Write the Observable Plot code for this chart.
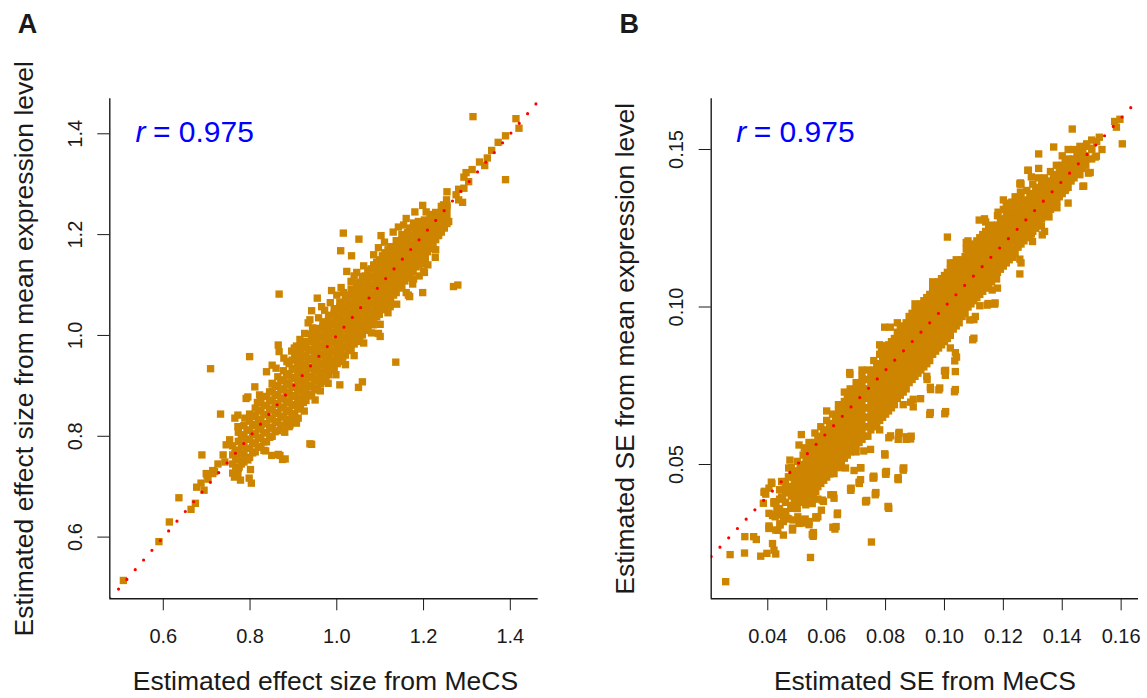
<!DOCTYPE html>
<html><head><meta charset="utf-8">
<script src="https://cdn.jsdelivr.net/npm/d3@7"></script>
<script src="https://cdn.jsdelivr.net/npm/@observablehq/plot@0.6"></script>
<style>
html,body{margin:0;padding:0;background:#fff;}
#wrap{position:relative;width:1147px;height:698px;overflow:hidden;background:#fff;}
#wrap > div{position:absolute;top:0;}
</style></head><body>
<div id="wrap"><div id="pa" style="left:0px"></div><div id="pb" style="left:573px"></div></div>
<script>
// ---------- Panel A: estimated effect size ----------
const titleXA = "Estimated effect size from MeCS";
const titleYA = "Estimated effect size from mean expression level";
const letterA = "A";
const rA = "0.975";
const xTicksA = [0.6, 0.8, 1.0, 1.2, 1.4];
const yTicksA = [0.6, 0.8, 1.0, 1.2, 1.4];
const xDomainA = [0.4767, 1.4643];
const yDomainA = [0.4776, 1.4694];

// scattered points: [MeCS, mean expression]
const outA = [
[0.508,0.514],[0.590,0.591],[0.614,0.630],[0.636,0.678],[0.664,0.655],[0.674,0.667],
[0.677,0.699],[0.694,0.693],[0.687,0.707],[0.699,0.726],[0.714,0.726],[0.718,0.730],[0.703,0.715],
[0.689,0.763],[0.709,0.934],[0.732,0.844],[0.726,0.745],[0.714,0.732],[0.701,0.722],[0.742,0.749],
[0.753,0.793],[0.745,0.783],[0.738,0.763],[0.772,0.723],[0.795,0.753],[0.765,0.766],[0.780,0.763],
[0.803,0.707],[0.801,0.734],[0.778,0.713],[0.764,0.719],[0.775,0.739],[0.798,0.717],
[0.799,0.958],[0.867,1.082],[0.836,0.771],[0.865,0.764],[0.875,0.754],[0.869,0.762],[0.881,0.755],[0.850,0.762],
[0.832,0.772],[0.846,0.799],[0.890,0.819],[0.907,0.826],[0.911,0.836],[0.892,0.822],
[0.938,0.785],[0.942,0.784],[0.911,0.862],
[0.851,0.941],[0.838,0.928],[0.811,0.898],[0.822,0.882],[0.791,0.875],[0.795,0.878],[0.817,0.867],
[0.772,0.842],[0.765,0.836],[0.788,0.836],[0.772,0.819],
[0.865,0.981],[0.867,0.968],[0.896,0.969],[0.907,0.979],
[0.934,1.025],[0.926,1.004],[0.938,1.031],[0.955,1.074],[0.965,1.057],[0.942,1.049],
[0.973,0.925],[0.988,0.939],[1.007,0.968],[1.011,0.951],[1.007,0.902],[1.050,0.897],[1.059,0.908],
[1.136,0.947],[1.096,1.004],[1.100,0.998],[1.084,1.021],[1.073,1.061],[1.106,1.061],[1.123,1.057],
[1.054,1.011],[1.057,1.027],[1.034,1.107],[1.065,1.100],[1.104,1.087],
[1.023,1.127],[1.033,1.107],[0.988,1.089],[1.015,1.085],[1.046,1.125],
[1.015,1.203],[1.051,1.191],[1.009,1.168],[1.034,1.158],[1.102,1.198],[1.096,1.174],
[1.228,1.170],[1.227,1.155],[1.204,1.153],[1.204,1.143],[1.200,1.128],[1.202,1.125],
[1.177,1.112],[1.198,1.085],[1.165,1.080],[1.168,1.077],[1.269,1.097],[1.279,1.100],
[1.154,1.219],[1.168,1.213],[1.177,1.223],
[1.198,1.258],[1.206,1.245],[1.188,1.226],[1.212,1.223],[1.196,1.206],[1.219,1.206],[1.233,1.198],
[1.254,1.285],[1.253,1.269],[1.246,1.259],[1.254,1.254],[1.242,1.243],[1.231,1.239],[1.225,1.233],[1.239,1.236],[1.258,1.226],[1.242,1.214],
[1.281,1.290],[1.293,1.292],[1.275,1.279],[1.281,1.269],[1.290,1.264],
[1.312,1.329],[1.298,1.323],[1.293,1.314],[1.304,1.305],
[1.329,1.344],[1.341,1.337],[1.347,1.352],[1.357,1.367],[1.372,1.383],[1.389,1.396],
[1.389,1.309],[1.314,1.434],[1.413,1.430],[1.420,1.411]
];
// ragged points along both edges of the cloud
const edgeA = [
[0.860,0.935],[0.878,0.955],[0.885,0.948],[0.902,0.975],[0.915,0.992],[0.921,0.985],[0.944,1.015],
[0.958,1.035],[0.972,1.050],[0.985,1.065],[1.000,1.080],[1.010,1.095],[1.040,1.118],[1.062,1.138],
[1.085,1.160],[1.110,1.185],[1.130,1.205],[1.142,1.215],[1.160,1.232],[1.180,1.245],
[0.880,0.808],[0.905,0.832],[0.925,0.850],[0.950,0.872],[0.962,0.890],[0.980,0.905],[0.998,0.922],
[1.020,0.942],[1.040,0.960],[1.062,0.985],[1.080,1.005],[1.100,1.022],[1.118,1.045],[1.138,1.062],
[1.160,1.085],[1.175,1.102],[1.190,1.118],[1.210,1.140]
];
// dense core of the cloud, estimated column by column: [MeCS, [mean expression values]]
const bandA = [
[0.760,[0.727,0.745,0.763,0.781]],
[0.773,[0.736,0.754,0.772,0.790,0.808]],
[0.786,[0.749,0.767,0.785,0.803,0.821]],
[0.799,[0.758,0.776,0.794,0.812,0.830,0.844]],
[0.812,[0.769,0.787,0.805,0.823,0.841,0.856]],
[0.825,[0.780,0.798,0.816,0.834,0.852,0.870]],
[0.838,[0.789,0.807,0.825,0.843,0.861,0.879]],
[0.851,[0.800,0.818,0.836,0.854,0.872,0.890,0.905]],
[0.864,[0.811,0.829,0.847,0.865,0.883,0.901,0.918]],
[0.877,[0.822,0.840,0.858,0.876,0.894,0.912,0.930]],
[0.890,[0.834,0.852,0.870,0.888,0.906,0.924,0.944]],
[0.903,[0.845,0.863,0.881,0.899,0.917,0.935,0.953,0.962]],
[0.916,[0.858,0.876,0.894,0.912,0.930,0.948,0.966,0.975]],
[0.929,[0.871,0.889,0.907,0.925,0.943,0.961,0.979,0.988]],
[0.942,[0.883,0.901,0.919,0.937,0.955,0.973,0.991,1.002]],
[0.955,[0.896,0.914,0.932,0.950,0.968,0.986,1.004,1.014]],
[0.968,[0.909,0.927,0.945,0.963,0.981,0.999,1.017,1.027]],
[0.981,[0.922,0.940,0.958,0.976,0.994,1.012,1.030,1.040]],
[0.994,[0.935,0.953,0.971,0.989,1.007,1.025,1.043,1.053]],
[1.007,[0.948,0.966,0.984,1.002,1.020,1.038,1.056,1.066]],
[1.020,[0.961,0.979,0.997,1.015,1.033,1.051,1.069,1.079]],
[1.033,[0.974,0.992,1.010,1.028,1.046,1.064,1.082,1.092]],
[1.046,[0.988,1.006,1.024,1.042,1.060,1.078,1.096,1.104]],
[1.059,[1.001,1.019,1.037,1.055,1.073,1.091,1.109,1.117]],
[1.072,[1.015,1.033,1.051,1.069,1.087,1.105,1.123,1.129]],
[1.085,[1.028,1.046,1.064,1.082,1.100,1.118,1.136,1.140]],
[1.098,[1.042,1.060,1.078,1.096,1.114,1.132,1.150]],
[1.111,[1.056,1.074,1.092,1.110,1.128,1.146,1.164]],
[1.124,[1.071,1.089,1.107,1.125,1.143,1.161,1.176]],
[1.137,[1.085,1.103,1.121,1.139,1.157,1.175,1.188]],
[1.150,[1.099,1.117,1.135,1.153,1.171,1.189,1.200]],
[1.163,[1.114,1.132,1.150,1.168,1.186,1.204]],
[1.176,[1.127,1.145,1.163,1.181,1.199,1.214]],
[1.189,[1.141,1.159,1.177,1.195,1.213,1.225]],
[1.202,[1.157,1.175,1.193,1.211,1.229]],
[1.215,[1.172,1.190,1.208,1.226,1.240]],
[1.228,[1.190,1.208,1.226,1.244]],
[1.241,[1.205,1.223,1.241,1.256]],
[1.254,[1.222,1.240,1.258]]
];
// second interleaved layer of the dense core
const bandA2 = [
[0.767,[0.736,0.754,0.772]],
[0.780,[0.745,0.763,0.781,0.799]],
[0.793,[0.758,0.776,0.794,0.812]],
[0.806,[0.767,0.785,0.803,0.821,0.839]],
[0.819,[0.778,0.796,0.814,0.832,0.850]],
[0.832,[0.789,0.807,0.825,0.843,0.861]],
[0.845,[0.798,0.816,0.834,0.852,0.870,0.888]],
[0.858,[0.809,0.827,0.845,0.863,0.881,0.899]],
[0.871,[0.820,0.838,0.856,0.874,0.892,0.910]],
[0.884,[0.831,0.849,0.867,0.885,0.903,0.921]],
[0.897,[0.843,0.861,0.879,0.897,0.915,0.933,0.951]],
[0.910,[0.854,0.872,0.890,0.908,0.926,0.944,0.962]],
[0.923,[0.867,0.885,0.903,0.921,0.939,0.957,0.975]],
[0.936,[0.880,0.898,0.916,0.934,0.952,0.970,0.988]],
[0.949,[0.892,0.910,0.928,0.946,0.964,0.982,1.000]],
[0.962,[0.905,0.923,0.941,0.959,0.977,0.995,1.013]],
[0.975,[0.918,0.936,0.954,0.972,0.990,1.008,1.026]],
[0.988,[0.931,0.949,0.967,0.985,1.003,1.021,1.039]],
[1.001,[0.944,0.962,0.980,0.998,1.016,1.034,1.052]],
[1.014,[0.957,0.975,0.993,1.011,1.029,1.047,1.065]],
[1.027,[0.970,0.988,1.006,1.024,1.042,1.060,1.078]],
[1.040,[0.983,1.001,1.019,1.037,1.055,1.073,1.091]],
[1.053,[0.997,1.015,1.033,1.051,1.069,1.087,1.105]],
[1.066,[1.010,1.028,1.046,1.064,1.082,1.100,1.118]],
[1.079,[1.024,1.042,1.060,1.078,1.096,1.114,1.132]],
[1.092,[1.037,1.055,1.073,1.091,1.109,1.127,1.145]],
[1.105,[1.051,1.069,1.087,1.105,1.123,1.141,1.158]],
[1.118,[1.065,1.083,1.101,1.119,1.137,1.155,1.170]],
[1.131,[1.080,1.098,1.116,1.134,1.152,1.170]],
[1.144,[1.094,1.112,1.130,1.148,1.166,1.184]],
[1.157,[1.108,1.126,1.144,1.162,1.180,1.196]],
[1.170,[1.123,1.141,1.159,1.177,1.195]],
[1.183,[1.136,1.154,1.172,1.190,1.208]],
[1.196,[1.150,1.168,1.186,1.204,1.220]],
[1.209,[1.166,1.184,1.202,1.220]],
[1.222,[1.181,1.199,1.217,1.235]],
[1.235,[1.199,1.217,1.235]],
[1.248,[1.213,1.231,1.249]]
];

// ---------- Panel B: estimated SE ----------
const titleXB = "Estimated SE from MeCS";
const titleYB = "Estimated SE from mean expression level";
const letterB = "B";
const rB = "0.975";
const xTicksB = [0.04, 0.06, 0.08, 0.10, 0.12, 0.14, 0.16];
const yTicksB = [0.05, 0.10, 0.15];
const xDomainB = [0.02078, 0.1659];
const yDomainB = [0.00737, 0.1661];

const outB = [
[0.0257,0.0128],[0.0272,0.0214],[0.0321,0.0219],[0.0322,0.0271],[0.0352,0.0271],[0.0361,0.0262],
[0.0376,0.0209],[0.0397,0.0218],[0.0427,0.0216],[0.0421,0.0228],[0.0416,0.0249],
[0.0545,0.0205],[0.0752,0.0254],[0.0809,0.0367],
[0.0621,0.0301],[0.0632,0.0303],[0.0628,0.0295],[0.0637,0.0346],[0.0623,0.0404],
[0.0736,0.0386],[0.0767,0.0411],[0.0683,0.0425],[0.0760,0.0463],
[0.0843,0.0458],[0.0862,0.0489],[0.0803,0.0478],[0.0797,0.0534],
[0.0871,0.0588],[0.0887,0.0590],[0.0846,0.0602],[0.0843,0.0580],[0.0870,0.0580],[0.0885,0.0581],
[0.0952,0.0665],[0.1004,0.0668],[0.1037,0.0738],[0.0952,0.0745],[0.0984,0.0743],
[0.1004,0.0799],[0.1037,0.0795],[0.1041,0.0841],[0.1037,0.0855],[0.1035,0.0829],
[0.1100,0.0901],[0.1096,0.0896],[0.1086,0.0959],[0.1105,0.0970],
[0.1172,0.1013],[0.1148,0.1011],[0.1120,0.1004],[0.1145,0.1006],
[0.1256,0.1105],[0.1256,0.1152],[0.1232,0.1158],[0.1177,0.1089],[0.1162,0.1054],[0.1170,0.1009],
[0.1332,0.1229],[0.1299,0.1208],[0.1355,0.1286],[0.1323,0.1267],[0.1348,0.1307],[0.1352,0.1288],
[0.1318,0.1293],[0.1329,0.1257],[0.1295,0.1232],[0.1382,0.1315],[0.1382,0.1336],[0.1348,0.1311],
[0.1412,0.1377],[0.1473,0.1384],[0.1495,0.1427],[0.1470,0.1383],[0.1489,0.1425],[0.1410,0.1373],
[0.1604,0.1518],[0.1578,0.1589],[0.1596,0.1596],[0.1584,0.1571],
[0.1434,0.1565],[0.1371,0.1508],[0.1320,0.1486],[0.1283,0.1434],[0.1256,0.1391],[0.1258,0.1394],
[0.1010,0.1222],[0.1074,0.1205],[0.1074,0.1184],
[0.1118,0.1276],[0.1136,0.1280],[0.1156,0.1250],[0.1182,0.1301],[0.1218,0.1306],[0.1229,0.1333],[0.1258,0.1365],
[0.1285,0.1434],[0.1295,0.1413],
[0.1516,0.1479],[0.1535,0.1500],[0.1500,0.1504],[0.1517,0.1525],[0.1526,0.1539],[0.1483,0.1518],
[0.1467,0.1504],[0.1455,0.1483],[0.1442,0.1466],[0.1479,0.1469],[0.1427,0.1448],[0.1512,0.1476],
[0.0678,0.0792],[0.0679,0.0786],[0.0681,0.0738],[0.0726,0.0730],
[0.0789,0.0877],[0.0816,0.0936],[0.0797,0.0936],[0.0786,0.0871],
[0.0953,0.0738],[0.0981,0.0737],[0.1034,0.0731],[0.0950,0.0659],[0.1001,0.0661],
[0.1000,0.0797],[0.1003,0.0783],[0.0941,0.0770],[0.0919,0.0709],[0.0894,0.0707],[0.0894,0.0683],[0.0885,0.0698],
[0.0811,0.0585],[0.0798,0.0530],[0.0860,0.0482],[0.0843,0.0452],[0.0800,0.0471],[0.0760,0.0458],
[0.0749,0.0548],[0.0715,0.0490],[0.0726,0.0543],
[0.0535,0.0526],[0.0524,0.0553],[0.0574,0.0547],[0.0591,0.0484],[0.0625,0.0471],[0.0664,0.0489],[0.0693,0.0481],[0.0715,0.0452],
[0.0811,0.0361],[0.0801,0.0469],[0.0765,0.0404],[0.0758,0.0457],[0.0733,0.0381],[0.0711,0.0440],
[0.0682,0.0418],[0.0636,0.0341],[0.0716,0.0489],[0.0554,0.0272],[0.0555,0.0276],
[0.0514,0.0595],[0.0506,0.0562],[0.0475,0.0514],[0.0471,0.0489],
[0.0447,0.0446],[0.0412,0.0444],[0.0404,0.0425],[0.0389,0.0415],[0.0447,0.0397],[0.0428,0.0376],
[0.0420,0.0341],[0.0434,0.0348],[0.0453,0.0319],[0.0441,0.0312],[0.0404,0.0305],[0.0434,0.0291],
[0.0484,0.0298],[0.0471,0.0327],[0.0502,0.0334],[0.0527,0.0327],[0.0539,0.0319],[0.0555,0.0284],
[0.0570,0.0334],[0.0582,0.0355],[0.0570,0.0390],[0.0551,0.0376],
[0.0404,0.0297],[0.0427,0.0292],[0.0453,0.0276],[0.0442,0.0308],[0.0484,0.0292],
[0.0404,0.0345],[0.0425,0.0334],[0.0431,0.0356],[0.0421,0.0377],[0.0444,0.0340],[0.0467,0.0329],
[0.0387,0.0412],[0.0414,0.0440],[0.0421,0.0382],[0.0450,0.0392],[0.0461,0.0419],[0.0481,0.0408],
[0.0453,0.0446],[0.0470,0.0461],[0.0495,0.0477],[0.0501,0.0451],[0.0529,0.0414],[0.0540,0.0446],
[0.0512,0.0392],[0.0486,0.0324],[0.0461,0.0350],[0.0478,0.0361],[0.0506,0.0313],[0.0520,0.0324],
[0.0540,0.0318],[0.0551,0.0278],[0.0563,0.0334],[0.0585,0.0387],[0.0555,0.0392],[0.0563,0.0414],
[0.0529,0.0372],[0.0506,0.0382],
[0.0681,0.0423],[0.0710,0.0444],[0.0732,0.0384],[0.0766,0.0409],[0.0809,0.0365],[0.0758,0.0460],
[0.0800,0.0475],[0.0842,0.0456],[0.0860,0.0488],[0.0845,0.0598],[0.0817,0.0591],
[0.0589,0.0383],[0.0614,0.0404],[0.0625,0.0393],[0.0565,0.0330],[0.0540,0.0309],[0.0521,0.0314],
[0.0405,0.0298],[0.0416,0.0338],[0.0393,0.0406],[0.0385,0.0377]
];
const edgeB = [
[0.060,0.067],[0.066,0.073],[0.072,0.080],[0.078,0.088],[0.084,0.095],[0.090,0.101],[0.096,0.108],
[0.102,0.114],[0.108,0.121],[0.114,0.127],[0.120,0.134],[0.126,0.139],[0.132,0.144],
[0.070,0.054],[0.078,0.061],[0.086,0.069],[0.094,0.078],[0.102,0.087],[0.110,0.096],[0.118,0.106],
[0.126,0.114],[0.134,0.124],[0.142,0.133]
];
const bandB = [
[0.044,[0.036,0.039,0.042]],
[0.046,[0.035,0.038,0.041,0.044]],
[0.048,[0.037,0.040,0.043,0.046,0.049]],
[0.050,[0.036,0.039,0.042,0.045,0.048,0.051]],
[0.052,[0.038,0.041,0.044,0.047,0.050,0.053]],
[0.054,[0.040,0.043,0.046,0.049,0.052,0.055,0.057]],
[0.056,[0.042,0.045,0.048,0.051,0.054,0.057,0.060]],
[0.058,[0.044,0.047,0.050,0.053,0.056,0.059,0.062]],
[0.060,[0.046,0.049,0.052,0.055,0.058,0.061,0.064]],
[0.062,[0.048,0.051,0.054,0.057,0.060,0.063,0.066]],
[0.064,[0.049,0.052,0.055,0.058,0.061,0.064,0.067,0.069]],
[0.066,[0.052,0.055,0.058,0.061,0.064,0.067,0.070]],
[0.068,[0.054,0.057,0.060,0.063,0.066,0.069,0.072,0.074]],
[0.070,[0.056,0.059,0.062,0.065,0.068,0.071,0.074,0.076]],
[0.072,[0.058,0.061,0.064,0.067,0.070,0.073,0.076,0.078]],
[0.074,[0.059,0.062,0.065,0.068,0.071,0.074,0.077,0.080]],
[0.076,[0.062,0.065,0.068,0.071,0.074,0.077,0.080,0.083]],
[0.078,[0.064,0.067,0.070,0.073,0.076,0.079,0.082,0.085]],
[0.080,[0.066,0.069,0.072,0.075,0.078,0.081,0.084,0.087]],
[0.082,[0.068,0.071,0.074,0.077,0.080,0.083,0.086,0.089]],
[0.084,[0.071,0.074,0.077,0.080,0.083,0.086,0.089,0.092]],
[0.086,[0.073,0.076,0.079,0.082,0.085,0.088,0.091,0.094]],
[0.088,[0.076,0.079,0.082,0.085,0.088,0.091,0.094,0.097]],
[0.090,[0.078,0.081,0.084,0.087,0.090,0.093,0.096,0.099]],
[0.092,[0.080,0.083,0.086,0.089,0.092,0.095,0.098,0.101]],
[0.094,[0.082,0.085,0.088,0.091,0.094,0.097,0.100,0.103]],
[0.096,[0.085,0.088,0.091,0.094,0.097,0.100,0.103,0.106]],
[0.098,[0.087,0.090,0.093,0.096,0.099,0.102,0.105,0.108]],
[0.100,[0.089,0.092,0.095,0.098,0.101,0.104,0.107,0.110]],
[0.102,[0.091,0.094,0.097,0.100,0.103,0.106,0.109,0.112]],
[0.104,[0.094,0.097,0.100,0.103,0.106,0.109,0.112,0.115]],
[0.106,[0.097,0.100,0.103,0.106,0.109,0.112,0.115]],
[0.108,[0.100,0.103,0.106,0.109,0.112,0.115,0.118]],
[0.110,[0.102,0.105,0.108,0.111,0.114,0.117,0.120]],
[0.112,[0.104,0.107,0.110,0.113,0.116,0.119,0.122]],
[0.114,[0.106,0.109,0.112,0.115,0.118,0.121,0.124]],
[0.116,[0.108,0.111,0.114,0.117,0.120,0.123,0.126]],
[0.118,[0.111,0.114,0.117,0.120,0.123,0.126,0.129]],
[0.120,[0.113,0.116,0.119,0.122,0.125,0.128,0.131]],
[0.122,[0.115,0.118,0.121,0.124,0.127,0.130,0.133]],
[0.124,[0.117,0.120,0.123,0.126,0.129,0.132,0.135]],
[0.126,[0.120,0.123,0.126,0.129,0.132,0.135]],
[0.128,[0.122,0.125,0.128,0.131,0.134,0.137]],
[0.130,[0.124,0.127,0.130,0.133,0.136,0.139]],
[0.132,[0.126,0.129,0.132,0.135,0.138,0.141]],
[0.134,[0.129,0.132,0.135,0.138,0.141]],
[0.136,[0.131,0.134,0.137,0.140,0.143]],
[0.138,[0.133,0.136,0.139,0.142,0.145]],
[0.140,[0.136,0.139,0.142,0.145,0.148]],
[0.142,[0.138,0.141,0.144,0.147,0.150]],
[0.144,[0.141,0.144,0.147,0.150]],
[0.146,[0.142,0.145,0.148,0.151]],
[0.148,[0.145,0.148,0.151]],
[0.150,[0.147,0.150,0.153]]
];
// second interleaved layer of the dense core
const bandB2 = [
[0.049,[0.038,0.041,0.044,0.047]],
[0.051,[0.040,0.043,0.046,0.049]],
[0.053,[0.039,0.042,0.045,0.048,0.051,0.054]],
[0.055,[0.041,0.044,0.047,0.050,0.053,0.056]],
[0.057,[0.043,0.046,0.049,0.052,0.055,0.058]],
[0.059,[0.045,0.048,0.051,0.054,0.057,0.060]],
[0.061,[0.047,0.050,0.053,0.056,0.059,0.062]],
[0.063,[0.050,0.053,0.056,0.059,0.062,0.065]],
[0.065,[0.051,0.054,0.057,0.060,0.063,0.066,0.069]],
[0.067,[0.053,0.056,0.059,0.062,0.065,0.068,0.071]],
[0.069,[0.055,0.058,0.061,0.064,0.067,0.070,0.073]],
[0.071,[0.057,0.060,0.063,0.066,0.069,0.072,0.075]],
[0.073,[0.059,0.062,0.065,0.068,0.071,0.074,0.077]],
[0.075,[0.061,0.064,0.067,0.070,0.073,0.076,0.079]],
[0.077,[0.063,0.066,0.069,0.072,0.075,0.078,0.081]],
[0.079,[0.065,0.068,0.071,0.074,0.077,0.080,0.083,0.086]],
[0.081,[0.067,0.070,0.073,0.076,0.079,0.082,0.085,0.088]],
[0.083,[0.069,0.072,0.075,0.078,0.081,0.084,0.087,0.090]],
[0.085,[0.072,0.075,0.078,0.081,0.084,0.087,0.090,0.093]],
[0.087,[0.074,0.077,0.080,0.083,0.086,0.089,0.092,0.095]],
[0.089,[0.077,0.080,0.083,0.086,0.089,0.092,0.095,0.098]],
[0.091,[0.079,0.082,0.085,0.088,0.091,0.094,0.097,0.100]],
[0.093,[0.081,0.084,0.087,0.090,0.093,0.096,0.099,0.102]],
[0.095,[0.083,0.086,0.089,0.092,0.095,0.098,0.101,0.104]],
[0.097,[0.086,0.089,0.092,0.095,0.098,0.101,0.104,0.107]],
[0.099,[0.088,0.091,0.094,0.097,0.100,0.103,0.106,0.109]],
[0.101,[0.090,0.093,0.096,0.099,0.102,0.105,0.108,0.111]],
[0.103,[0.093,0.096,0.099,0.102,0.105,0.108,0.111,0.114]],
[0.105,[0.095,0.098,0.101,0.104,0.107,0.110,0.113]],
[0.107,[0.098,0.101,0.104,0.107,0.110,0.113,0.116]],
[0.109,[0.101,0.104,0.107,0.110,0.113,0.116,0.119]],
[0.111,[0.103,0.106,0.109,0.112,0.115,0.118,0.121]],
[0.113,[0.105,0.108,0.111,0.114,0.117,0.120,0.123]],
[0.115,[0.107,0.110,0.113,0.116,0.119,0.122,0.125]],
[0.117,[0.110,0.113,0.116,0.119,0.122,0.125]],
[0.119,[0.112,0.115,0.118,0.121,0.124,0.127]],
[0.121,[0.114,0.117,0.120,0.123,0.126,0.129,0.132]],
[0.123,[0.116,0.119,0.122,0.125,0.128,0.131]],
[0.125,[0.119,0.122,0.125,0.128,0.131,0.134]],
[0.127,[0.121,0.124,0.127,0.130,0.133]],
[0.129,[0.123,0.126,0.129,0.132,0.135]],
[0.131,[0.125,0.128,0.131,0.134,0.137]],
[0.133,[0.128,0.131,0.134,0.137,0.140]],
[0.135,[0.130,0.133,0.136,0.139]],
[0.137,[0.132,0.135,0.138,0.141]],
[0.139,[0.135,0.138,0.141,0.144]],
[0.141,[0.137,0.140,0.143,0.146]],
[0.143,[0.140,0.143,0.146]],
[0.145,[0.143,0.146,0.149]],
[0.147,[0.144,0.147,0.150]]
];

// ---------- drawing ----------
const FONT = "'Liberation Sans', Arial, Helvetica, sans-serif";
const POINT = "#CD8500";
const INK = "#1a1a1a";

function expand(pairs, ...bands) {
  return pairs.concat(bands.flatMap(band => band.flatMap(([x, ys]) => ys.map(y => [x, y]))));
}

function panel(o) {
  const lo = Math.max(o.xDomain[0], o.yDomain[0]);
  const hi = Math.min(o.xDomain[1], o.yDomain[1]);
  return Plot.plot({
    width: o.width, height: 698,
    marginLeft: o.mLeft, marginRight: o.mRight, marginTop: 98.3, marginBottom: 99.7,
    style: {fontFamily: FONT, fontSize: "20px", background: "#fff", color: INK},
    x: {domain: o.xDomain}, y: {domain: o.yDomain},
    marks: [
      Plot.dot(o.points, {x: d => d[0], y: d => d[1], symbol: "square", r: 4.15, fill: POINT, stroke: null}),
      Plot.line([[lo, lo], [hi, hi]], {x: d => d[0], y: d => d[1], stroke: "#FF0000", strokeWidth: 3.2,
        strokeDasharray: "0,12.8", strokeLinecap: "round", clip: true}),
      Plot.ruleX([o.xDomain[0]], {stroke: INK, strokeWidth: 1.4}),
      Plot.ruleY([o.yDomain[0]], {stroke: INK, strokeWidth: 1.4}),
      Plot.axisX({ticks: o.xTicks, tickFormat: o.xFmt, tickSize: 12, tickPadding: 17.7, label: null, fontSize: 20}),
      Plot.axisY({ticks: o.yTicks, tickFormat: o.yFmt, tickSize: 12, tickPadding: 16, tickRotate: -90, label: null, fontSize: 20}),
      Plot.text([o.xTitle], {text: d => d, frameAnchor: "bottom", dx: o.xTitleDx, dy: 90.7, lineAnchor: "bottom", fontSize: 26.5}),
      Plot.text([o.yTitle], {text: d => d, frameAnchor: "left", dx: -77, rotate: -90, lineAnchor: "bottom", textAnchor: "middle", fontSize: 26.5}),
      Plot.text([o.letter], {text: d => d, frameAnchor: "top-left", dx: o.letterDx, dy: -65.8, lineAnchor: "bottom", textAnchor: "start", fontWeight: "bold", fontSize: 27}),
      Plot.text(["r"], {text: d => d, frameAnchor: "top-left", dx: o.rDx, dy: 43.4, lineAnchor: "bottom", textAnchor: "start", fontStyle: "italic", fill: "#0000FF", fontSize: 30}),
      Plot.text(["= " + o.r], {text: d => d, frameAnchor: "top-left", dx: o.rDx + 17.5, dy: 43.4, lineAnchor: "bottom", textAnchor: "start", fill: "#0000FF", fontSize: 30})
    ]
  });
}

document.getElementById("pa").appendChild(panel({
  width: 573, mLeft: 109.3, mRight: 35.3,
  points: expand(outA.concat(edgeA), bandA, bandA2), xDomain: xDomainA, yDomain: yDomainA,
  xTicks: xTicksA, yTicks: yTicksA, xFmt: d3.format(".1f"), yFmt: d3.format(".1f"),
  xTitle: titleXA, yTitle: titleYA, xTitleDx: 1.5, letter: letterA, letterDx: -92.1, r: rA, rDx: 25.7
}));
document.getElementById("pb").appendChild(panel({
  width: 574, mLeft: 137.7, mRight: 9,
  points: expand(outB.concat(edgeB), bandB, bandB2), xDomain: xDomainB, yDomain: yDomainB,
  xTicks: xTicksB, yTicks: yTicksB, xFmt: d3.format(".2f"), yFmt: d3.format(".2f"),
  xTitle: titleXB, yTitle: titleYB, xTitleDx: 0, letter: letterB, letterDx: -91.7, r: rB, rDx: 25
}));
</script></body></html>
